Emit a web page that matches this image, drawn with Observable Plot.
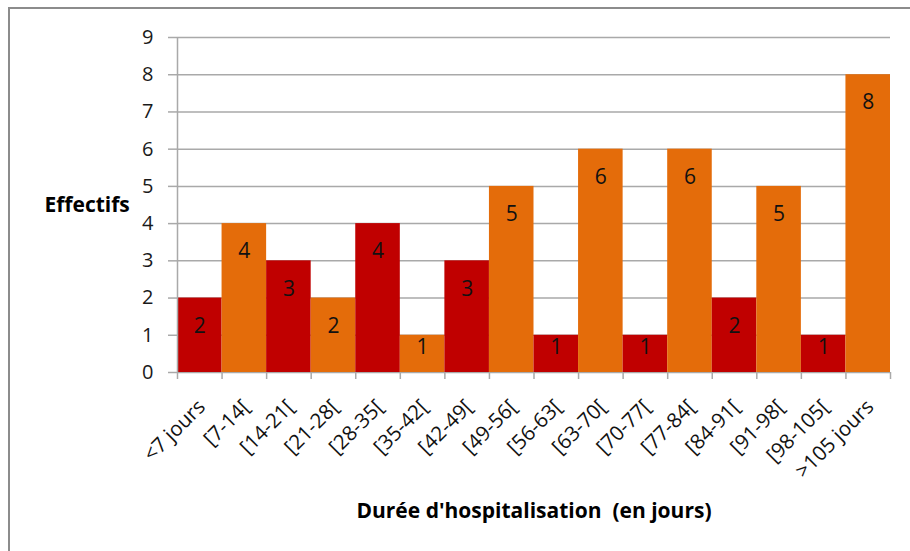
<!DOCTYPE html>
<html>
<head>
<meta charset="utf-8">
<script src="https://cdn.jsdelivr.net/npm/d3@7"></script>
<script src="https://cdn.jsdelivr.net/npm/@observablehq/plot@0.6"></script>
<style>
  html, body { margin: 0; padding: 0; background: #fff; }
  #wrap { position: relative; width: 910px; height: 551px; overflow: hidden; background: #fff; }
  #frame { position: absolute; left: 8px; top: 7px; width: 1000px; height: 1000px; border: 2px solid #8c8c8c; box-sizing: border-box; }
  #chart { position: absolute; left: 0; top: 0; }
  svg text { white-space: pre; }
</style>
</head>
<body>
<div id="wrap"><div id="frame"></div><div id="chart"></div></div>
<script>
const categories = ["<7 jours", "[7-14[", "[14-21[", "[21-28[", "[28-35[", "[35-42[", "[42-49[", "[49-56[",
  "[56-63[", "[63-70[", "[70-77[", "[77-84[", "[84-91[", "[91-98[", "[98-105[", ">105 jours"];
const values = [2, 4, 3, 2, 4, 1, 3, 5, 1, 6, 1, 6, 2, 5, 1, 8];
const yTicks = [0, 1, 2, 3, 4, 5, 6, 7, 8, 9];
const yTitle = "Effectifs";
const xTitle = "Durée d'hospitalisation  (en jours)";

const RED = "#C00000", ORANGE = "#E46C0A", GRID = "#a9a9a9";
const data = categories.map((c, i) => ({cat: c, i, value: values[i]}));
const bounds = d3.range(categories.length + 1);

const chart = Plot.plot({
  width: 910, height: 551,
  marginLeft: 177, marginRight: 20, marginTop: 37, marginBottom: 179,
  style: {fontFamily: "'Open Sans', Lato, sans-serif", background: "transparent", color: "#222"},
  x: {type: "linear", domain: [0, categories.length], axis: null},
  y: {domain: [0, 9], axis: null},
  marks: [
    Plot.ruleY(yTicks, {x1: 0, x2: categories.length, stroke: GRID, strokeWidth: 1.5}),
    Plot.axisY({ticks: yTicks, tickSize: 9, tickPadding: 15, fontSize: 20, stroke: GRID, strokeWidth: 1.5, label: null, fill: "#1a1a1a"}),
    Plot.rectY(data, {x1: d => d.i, x2: d => d.i + 1, y: "value", fill: (d) => d.i % 2 ? ORANGE : RED}),
    Plot.ruleX([0], {y1: 0, y2: 9, stroke: GRID, strokeWidth: 1.5}),
    Plot.axisX({ticks: bounds, tickSize: 7, tickFormat: () => "", stroke: GRID, strokeWidth: 1.5, label: null}),
    Plot.text(data.filter(d => d.value >= 2), {x: d => d.i + 0.5, y: "value", text: d => String(d.value), dy: 28, fontSize: 21, fill: "#111"}),
    Plot.text(data.filter(d => d.value < 2), {x: d => d.i + 0.5, y: "value", text: d => String(d.value), dy: 12, fontSize: 21, fill: "#111"}),
    Plot.text(data, {x: d => d.i + 0.5, y: 0, text: "cat", rotate: -45, textAnchor: "end", dx: 2, dy: 31, fontSize: 20.5, fill: "#111"}),
    Plot.text([yTitle], {frameAnchor: "left", dx: -133, textAnchor: "start", fontSize: 21, fontWeight: "bold", fill: "#000"}),
    Plot.text([xTitle], {frameAnchor: "bottom", dy: 145, fontSize: 21, fontWeight: "bold", fill: "#000"})
  ]
});
document.getElementById("chart").appendChild(chart);
</script>
</body>
</html>
